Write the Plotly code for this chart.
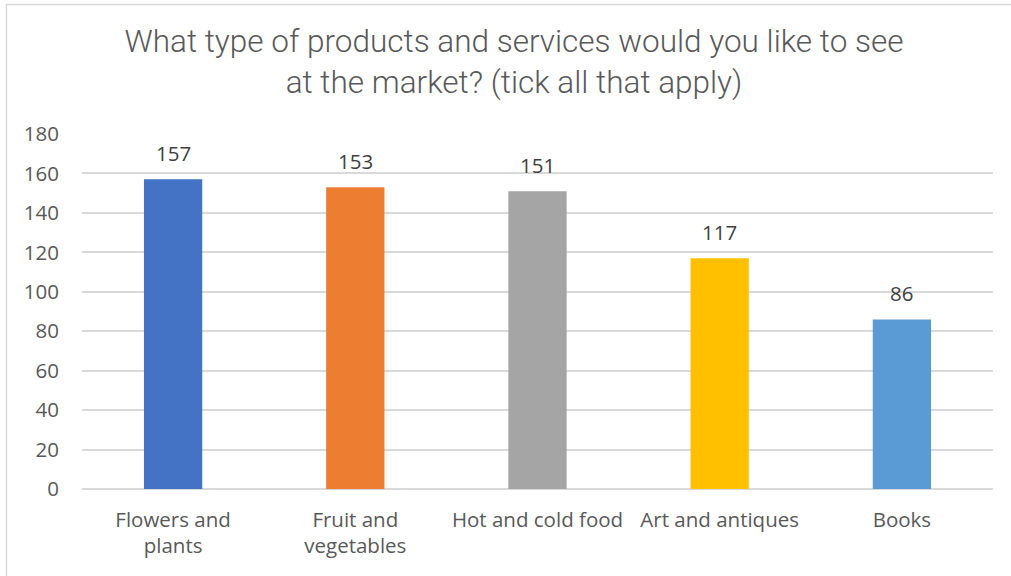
import plotly.graph_objects as go

# Survey responses
categories = ["Flowers and<br>plants", "Fruit and<br>vegetables", "Hot and cold food", "Art and antiques", "Books"]
counts = [157, 153, 151, 117, 86]
bar_colors = ["#4472C4", "#ED7D31", "#A5A5A5", "#FFC000", "#5B9BD5"]
y_ticks = [0, 20, 40, 60, 80, 100, 120, 140, 160, 180]

W, H = 1011, 576
L, R, T, B = 82, 18, 134, 87
pw, ph = W - L - R, H - T - B

fig = go.Figure()
fig.add_trace(go.Bar(
    x=categories,
    y=counts,
    marker=dict(color=bar_colors, line=dict(width=0)),
    width=0.32,
    hoverinfo="x+y",
))

# value labels above bars
for c, v in zip(categories, counts):
    fig.add_annotation(
        x=c, y=v, text=str(v), showarrow=False,
        yanchor="bottom", yshift=10,
        font=dict(family="Open Sans", size=20.5, color="#404040"),
    )

# outer chart frame
fx0 = (6.5 - L) / pw
fy1 = (H - B - 4.5) / ph
fig.add_shape(type="rect", xref="paper", yref="paper",
              x0=fx0, x1=1.5, y0=-1.0, y1=fy1,
              line=dict(color="#d9d9d9", width=1.5), fillcolor="rgba(0,0,0,0)")

fig.update_layout(
    width=W, height=H,
    margin=dict(l=L, r=R, t=T, b=B, pad=0),
    paper_bgcolor="white", plot_bgcolor="white",
    showlegend=False,
    title=dict(
        text="What type of products and services would you like to see<br>at the market? (tick all that apply)",
        x=514 / W, xanchor="center", xref="container",
        y=1 - 52 / H, yanchor="top", yref="container",
        font=dict(family="Roboto", weight=300, size=31.5, color="#595959"),
    ),
    xaxis=dict(
        showgrid=False, showline=False, zeroline=False,
        ticks="outside", ticklen=12, tickcolor="rgba(0,0,0,0)",
        tickfont=dict(family="Open Sans", size=20.5, color="#595959"),
    ),
    yaxis=dict(
        range=[0, 180], tickvals=y_ticks,
        showgrid=True, gridcolor="#d9d9d9", gridwidth=1.5,
        zeroline=True, zerolinecolor="#d9d9d9", zerolinewidth=1.5,
        showline=False,
        ticks="outside", ticklen=18, tickcolor="rgba(0,0,0,0)",
        tickfont=dict(family="Open Sans", size=20.5, color="#595959"),
    ),
)

fig.write_html("out.html")
